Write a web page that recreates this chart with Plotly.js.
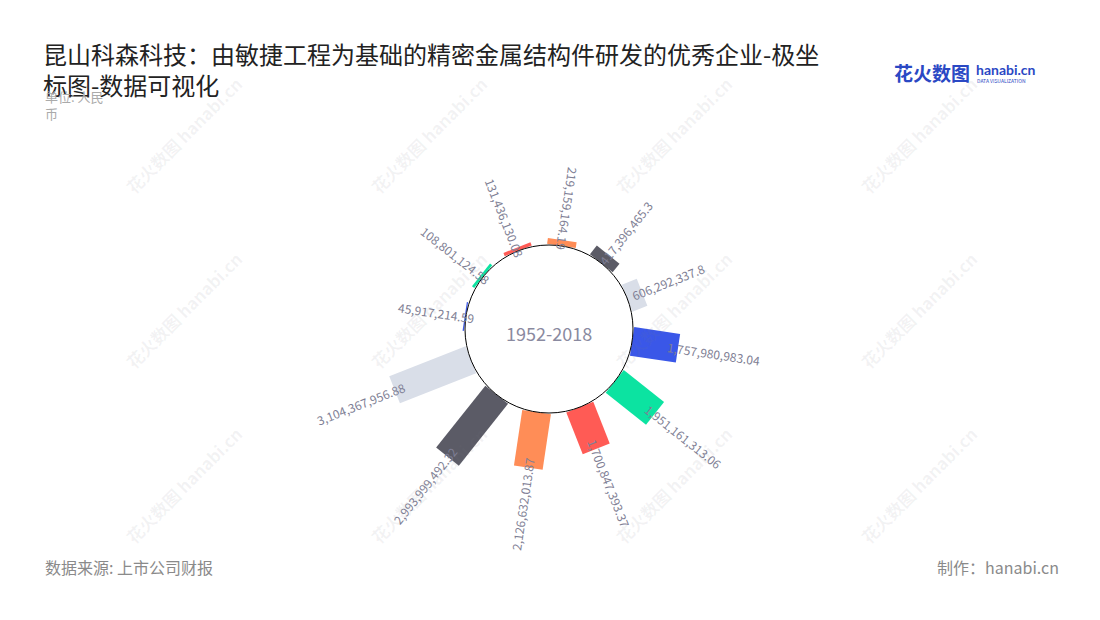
<!DOCTYPE html>
<html>
<head>
<meta charset="utf-8">
<script src="https://cdn.plot.ly/plotly-3.0.1.min.js"></script>
<style>
  html, body { margin: 0; padding: 0; background: #fff; }
  #chart { width: 1100px; height: 620px; }
</style>
</head>
<body>
<div id="chart"></div>
<script>
// ---- data (clockwise, starting on the left side) ----
const values = [45917214.59, 108801124.58, 131436130.08, 219159164.19, 417396465.3, 606292337.8,
                1757980983.04, 1951161313.06, 1700847393.37, 2126632013.87, 2993999492.32, 3104367956.88];
const colors = ['#3A57E8', '#0CE3A1', '#FF5B55', '#FF8D57', '#5B5B66', '#D9DEE8',
                '#3A57E8', '#0CE3A1', '#FF5B55', '#FF8D57', '#5B5B66', '#D9DEE8'];
const centerLabel = '1952-2018';
const titleText = '昆山科森科技：由敏捷工程为基础的精密金属结构件研发的优秀企业-极坐<br>标图-数据可视化';

// ---- layout constants ----
const W = 1100, H = 620;
const FONT = '"Noto Sans CJK SC", "Noto Sans", sans-serif';
const cx = 549, cy = 329;       // polar centre (px)
const R = 176.4;                // outer radius (px)
const holePx = 84;              // hole radius (px)
const rMax = 3.5e9;
const startAngle = 278.5, step = 30, barPx = 29;

const thetas = values.map((v, i) => (startAngle + step * i) % 360);
const fmt = v => v.toLocaleString('en-US', {maximumFractionDigits: 2});
const labels = values.map(fmt);

const traces = values.map((v, i) => ({
  type: 'scatterpolar', mode: 'lines',
  r: [0, v], theta: [thetas[i], thetas[i]],
  line: {color: colors[i], width: barPx},
  cliponaxis: false, hoverinfo: 'skip', showlegend: false
}));

// text measuring for label placement
const ctx = document.createElement('canvas').getContext('2d');
ctx.font = '12px ' + FONT;
const rPx = v => holePx + v / rMax * (R - holePx);

const annotations = [];
values.forEach((v, i) => {
  const th = thetas[i];
  const w = ctx.measureText(labels[i]).width;
  const rc = rPx(v) - 10 + w / 2;
  const rad = th * Math.PI / 180;
  const px = cx + rc * Math.sin(rad), py = cy - rc * Math.cos(rad);
  let a = th - 90;
  if (a > 90 || a < -60) a = a > 90 ? a - 180 : a + 180;
  annotations.push({
    xref: 'paper', yref: 'paper', x: px / W, y: 1 - py / H,
    xanchor: 'center', yanchor: 'middle', showarrow: false,
    text: labels[i], textangle: a,
    font: {family: FONT, size: 12, color: '#7F7F95'}
  });
});

// centre text
annotations.push({xref: 'paper', yref: 'paper', x: cx / W, y: 1 - 333 / H,
  xanchor: 'center', yanchor: 'middle', showarrow: false, text: centerLabel,
  font: {family: FONT, size: 18, color: '#8A8AA0'}});

// subtitle
annotations.push({xref: 'paper', yref: 'paper', x: 43 / W, y: 1 - 85 / H,
  xanchor: 'left', yanchor: 'top', showarrow: false, align: 'left',
  text: '单位: 人民<br>币', font: {family: FONT, size: 13, color: '#AAAAAA'}});

// footer
annotations.push({xref: 'paper', yref: 'paper', x: 43 / W, y: 1 - 567 / H,
  xanchor: 'left', yanchor: 'middle', showarrow: false,
  text: '数据来源: 上市公司财报', font: {family: FONT, size: 16, color: '#8A8A8A'}});
annotations.push({xref: 'paper', yref: 'paper', x: 1061 / W, y: 1 - 567 / H,
  xanchor: 'right', yanchor: 'middle', showarrow: false,
  text: '制作：hanabi.cn', font: {family: FONT, size: 16, color: '#8A8A8A'}});

// logo
annotations.push({xref: 'paper', yref: 'paper', x: 892 / W, y: 1 - 73 / H,
  xanchor: 'left', yanchor: 'middle', showarrow: false,
  text: '<b>花火数图</b>', font: {family: FONT, size: 19, color: '#2A48C4'}});
annotations.push({xref: 'paper', yref: 'paper', x: 974 / W, y: 1 - 69 / H,
  xanchor: 'left', yanchor: 'middle', showarrow: false,
  text: '<b>hanabi.cn</b>', font: {family: 'Lato, ' + FONT, size: 14, color: '#2A48C4'}});
annotations.push({xref: 'paper', yref: 'paper', x: 975 / W, y: 1 - 80 / H,
  xanchor: 'left', yanchor: 'middle', showarrow: false,
  text: 'DATA VISUALIZATION', font: {family: FONT, size: 5, color: '#2A48C4'}});

// watermarks
[183, 428, 673, 918].forEach(x => {
  [135, 310, 485].forEach(y => {
    annotations.push({xref: 'paper', yref: 'paper', x: x / W, y: 1 - y / H,
      xanchor: 'center', yanchor: 'middle', showarrow: false, textangle: -45,
      text: '<b>花火数图 hanabi.cn</b>',
      font: {family: FONT, size: 17, color: 'rgba(120,120,130,0.09)'}});
  });
});

const layout = {
  width: W, height: H,
  margin: {l: 0, r: 0, t: 0, b: 0},
  paper_bgcolor: '#fff',
  showlegend: false,
  title: {
    text: titleText, xref: 'container', yref: 'container',
    x: 43 / W, xanchor: 'left', y: 1 - 64 / H, yanchor: 'top',
    font: {family: FONT, size: 24, color: '#222222'}
  },
  polar: {
    domain: {x: [(cx - R) / W, (cx + R) / W], y: [(H - cy - R) / H, (H - cy + R) / H]},
    hole: holePx / R,
    bgcolor: 'rgba(0,0,0,0)',
    radialaxis: {visible: false, range: [0, rMax]},
    angularaxis: {visible: false, rotation: 90, direction: 'clockwise', showgrid: false, showline: false}
  },
  shapes: [{
    type: 'circle', xref: 'paper', yref: 'paper', layer: 'above',
    x0: (cx - holePx) / W, x1: (cx + holePx) / W,
    y0: (H - cy - holePx) / H, y1: (H - cy + holePx) / H,
    line: {color: '#000', width: 1}
  }],
  annotations: annotations
};

Plotly.newPlot('chart', traces, layout, {displayModeBar: false, staticPlot: true});
</script>
</body>
</html>
